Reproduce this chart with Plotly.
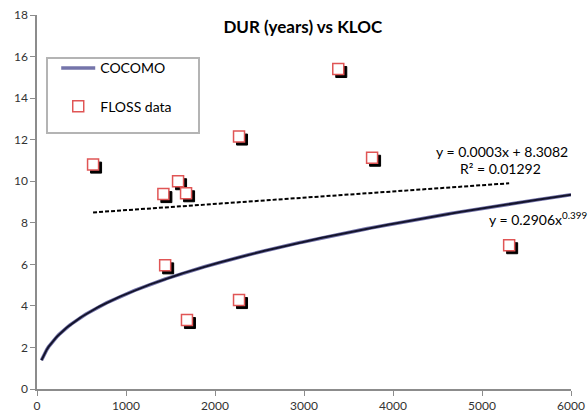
import numpy as np
import plotly.graph_objects as go

# FLOSS project observations: size (KLOC) and duration (years)
kloc = [630, 1420, 1585, 1675, 1440, 1685, 2270, 2270, 3385, 3765, 5305]
dur_years = [10.8, 9.38, 10.0, 9.42, 5.95, 3.32, 12.15, 4.28, 15.4, 11.13, 6.92]

# COCOMO duration model y = a * x^b
cocomo_a = 0.2906
cocomo_b = 0.399
cocomo_x = np.linspace(50, 6000, 300)
cocomo_y = cocomo_a * cocomo_x ** cocomo_b

# Linear trend line fitted to the FLOSS data
trend_slope = 0.0003
trend_icept = 8.3082
trend_x = np.array([min(kloc), max(kloc)])
trend_y = trend_slope * trend_x + trend_icept

x_range = [0, 6000]
y_range = [0, 18]
x_ticks = [0, 1000, 2000, 3000, 4000, 5000, 6000]
y_ticks = [0, 2, 4, 6, 8, 10, 12, 14, 16, 18]

W, H = 588, 420
M = dict(l=37, r=17, t=15, b=31)
px_x = (x_range[1] - x_range[0]) / (W - M["l"] - M["r"])
px_y = (y_range[1] - y_range[0]) / (H - M["t"] - M["b"])

FONT = "Lato, 'Open Sans', sans-serif"

fig = go.Figure()

# COCOMO curve: soft lavender halo under a dark core line
fig.add_trace(go.Scatter(
    x=cocomo_x, y=cocomo_y, mode="lines", name="COCOMO", legendgroup="cocomo",
    line=dict(color="#7474aa", width=3.6), hoverinfo="skip",
))
fig.add_trace(go.Scatter(
    x=cocomo_x, y=cocomo_y, mode="lines", showlegend=False, legendgroup="cocomo",
    line=dict(color="#14142c", width=2), hoverinfo="skip",
))

# Dashed linear trend line
fig.add_trace(go.Scatter(
    x=trend_x, y=trend_y, mode="lines", showlegend=False,
    line=dict(color="#000000", width=2, dash="4px,2px"),
))

# Drop shadow of each data marker (shifted a few pixels down-right)
fig.add_trace(go.Scatter(
    x=[v + 3 * px_x for v in kloc], y=[v - 3 * px_y for v in dur_years],
    mode="markers", showlegend=False, hoverinfo="skip",
    marker=dict(symbol="square", size=11, color="#000000",
                line=dict(color="#000000", width=1)),
))
fig.add_trace(go.Scatter(
    x=kloc, y=dur_years, mode="markers", name="FLOSS data", legendgroup="floss",
    marker=dict(symbol="square", size=11, color="#ffffff",
                line=dict(color="#e05555", width=1.5)),
))

fig.add_annotation(x=5230, y=11.45, xref="x", yref="y", showarrow=False,
                   text="y = 0.0003x + 8.3082",
                   font=dict(family=FONT, size=14, color="#000000"))
fig.add_annotation(x=5210, y=10.6, xref="x", yref="y", showarrow=False,
                   text="R² = 0.01292",
                   font=dict(family=FONT, size=14, color="#000000"))
fig.add_annotation(x=5060, y=8.2, xref="x", yref="y", showarrow=False,
                   xanchor="left",
                   text="y = 0.2906x<sup>0.399</sup>",
                   font=dict(family=FONT, size=14, color="#000000"))

# Legend frame
fig.add_shape(type="rect", xref="paper", yref="paper",
              x0=(47 - M["l"]) / (W - M["l"] - M["r"]),
              x1=(199 - M["l"]) / (W - M["l"] - M["r"]),
              y0=1 - (133 - M["t"]) / (H - M["t"] - M["b"]),
              y1=1 - (58 - M["t"]) / (H - M["t"] - M["b"]),
              line=dict(color="#b4b4b4", width=2), fillcolor="#ffffff",
              layer="below")

axis_common = dict(
    showgrid=False, zeroline=False, showline=True, automargin=False,
    linecolor="#8c8c8c", linewidth=1.5,
    ticks="outside", ticklen=5, tickcolor="#8c8c8c", tickwidth=1,
    tickfont=dict(family=FONT, size=12, color="#333333"),
)

fig.update_layout(
    width=W, height=H, margin=M,
    paper_bgcolor="#ffffff", plot_bgcolor="rgba(0,0,0,0)",
    title=dict(text="<b>DUR (years) vs KLOC</b>", x=0.515, xanchor="center",
               y=0.935, yanchor="middle", automargin=False,
               font=dict(family=FONT, size=17, color="#000000")),
    xaxis=dict(range=x_range, tickvals=x_ticks, **axis_common),
    yaxis=dict(range=y_range, tickvals=y_ticks, **axis_common),
    legend=dict(x=0.036, y=0.9, xanchor="left", yanchor="top",
                borderwidth=0, bgcolor="rgba(0,0,0,0)",
                font=dict(family=FONT, size=14, color="#000000"),
                tracegroupgap=17, itemwidth=34),
    showlegend=True,
)

fig.write_html("out.html")
